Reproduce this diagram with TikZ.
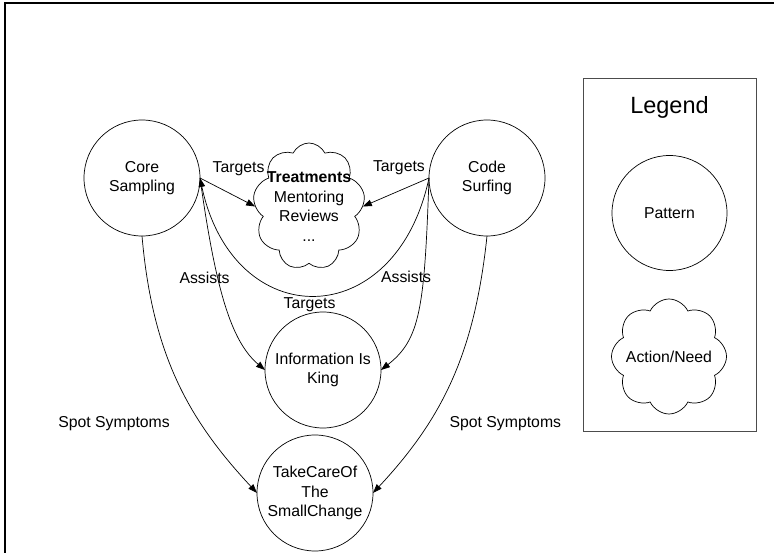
\documentclass[tikz,border=0pt]{standalone}
\usepackage{fontspec}
\setmainfont{Liberation Sans}
\usepackage{tkz-graph}
\usetikzlibrary{arrows.meta,shapes.symbols}
\colorlet{boxgray}{black!70}

\begin{document}
\begin{tikzpicture}[x=1pt,y=1pt,>={Triangle[length=9pt,width=6.5pt]},
  font=\fontsize{15.8}{19.5}\selectfont]
\useasboundingbox (0,0) rectangle (774,-553);
\draw[line width=1.2pt] (5,-553) -- (5,-3) -- (774,-3);
\GraphInit[vstyle=Normal]
\tikzset{VertexStyle/.style ={shape=circle, draw, line width=0.7pt, minimum size=116pt, inner sep=0pt, align=center}}
\Vertex[x=142, y=-178, L={Core\\Sampling}]{core}
\Vertex[x=487, y=-178, L={Code\\Surfing}]{surf}
\Vertex[x=323, y=-370, L={Information Is\\King}]{info}
\Vertex[x=315, y=-493, L={TakeCareOf\\The\\SmallChange}]{small}
\tikzset{VertexStyle/.style ={shape=cloud, draw, line width=0.7pt, cloud puffs=9, cloud puff arc=130, cloud ignores aspect, minimum width=112pt, minimum height=127pt, inner sep=-16pt, align=center}}
\Vertex[x=309, y=-206.5, L={\textbf{Treatments}\\Mentoring\\Reviews\\...}]{treat}
% legend
\node[draw=boxgray, line width=0.8pt, minimum width=173pt, minimum height=353pt] (legend) at (669.5,-254.5) {};
\node[font=\fontsize{23.5}{28}\selectfont] (legendtitle) at (669.5,-107) {Legend};
\tikzset{VertexStyle/.style ={shape=circle, draw, line width=0.7pt, minimum size=115pt, inner sep=0pt}}
\Vertex[x=669.5, y=-213, L=Pattern]{pattern}
\tikzset{VertexStyle/.style ={shape=cloud, draw, line width=0.7pt, cloud puffs=8, cloud puff arc=130, cloud ignores aspect, minimum width=115pt, minimum height=115pt, inner sep=-20pt}}
\Vertex[x=669, y=-356.5, L={Action/Need}]{action}
\tikzset{EdgeStyle/.style ={->, draw, line width=0.7pt}}
\tikzset{LabelStyle/.style ={draw=none, fill=none, inner sep=1pt}}
\Edge[label=Targets, labelstyle={xshift=11pt, yshift=24pt}](core.east)(treat.west)
\Edge[label=Targets, labelstyle={xshift=3pt, yshift=25pt}](surf.west)(treat.east)
\Edge[label=Targets, style={out=-102, in=-78, out distance=160pt, in distance=160pt}, labelstyle={xshift=-5pt, yshift=-9pt}](surf.west)(core.east)
\Edge[label=Assists, style={out=-82, in=140, out distance=110pt, in distance=45pt}, labelstyle={pos=0.4, xshift=-15pt, yshift=6pt}](core.east)(info.west)
\Edge[label=Assists, style={out=-92, in=38, out distance=130pt, in distance=50pt}, labelstyle={pos=0.3, xshift=-18pt, yshift=-5.5pt}](surf.west)(info.east)
\Edge[label=Spot Symptoms, style={out=-85, in=133, out distance=120pt, in distance=100pt}, labelstyle={pos=0.7, xshift=-90pt, yshift=4pt}](core.south)(small.west)
\Edge[label=Spot Symptoms, style={out=-96, in=47, out distance=120pt, in distance=100pt}, labelstyle={pos=0.7, xshift=80pt, yshift=4pt}](surf.south)(small.east)
\end{tikzpicture}
\end{document}
